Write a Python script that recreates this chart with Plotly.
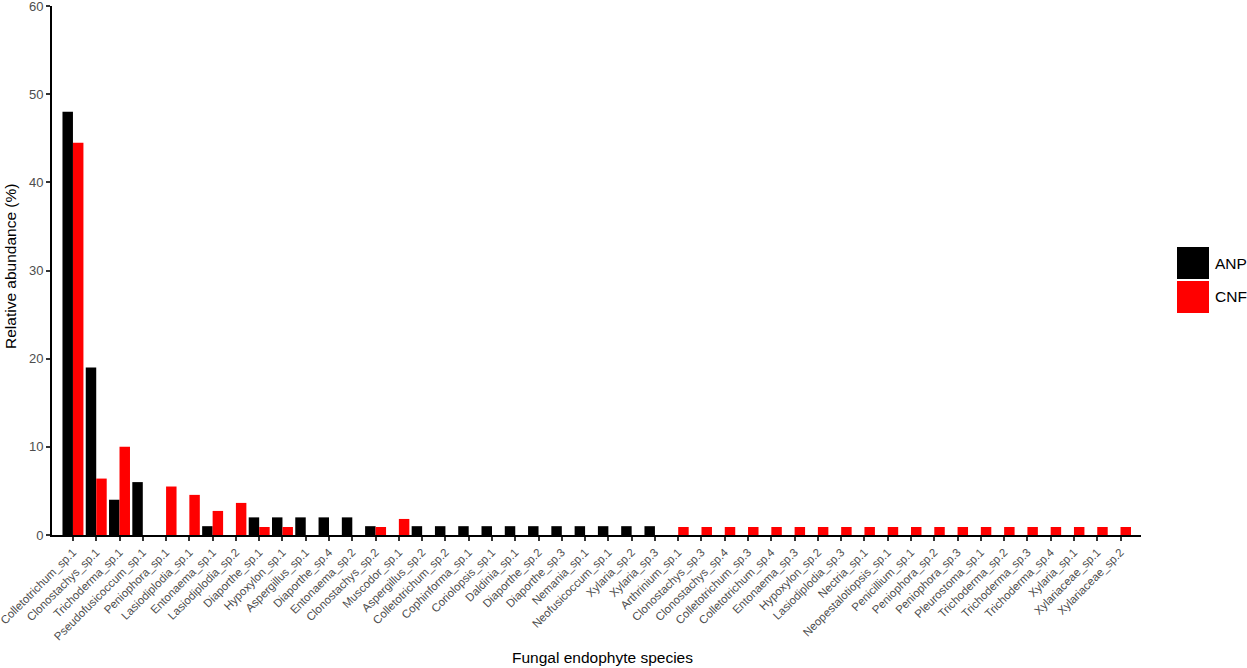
import plotly.graph_objects as go

species = [
    "Colletotrichum_sp.1", "Clonostachys_sp.1", "Trichoderma_sp.1", "Pseudofusicoccum_sp.1",
    "Peniophora_sp.1", "Lasiodiplodia_sp.1", "Entonaema_sp.1", "Lasiodiplodia_sp.2",
    "Diaporthe_sp.1", "Hypoxylon_sp.1", "Aspergillus_sp.1", "Diaporthe_sp.4",
    "Entonaema_sp.2", "Clonostachys_sp.2", "Muscodor_sp.1", "Aspergillus_sp.2",
    "Colletotrichum_sp.2", "Cophinforma_sp.1", "Coriolopsis_sp.1", "Daldinia_sp.1",
    "Diaporthe_sp.2", "Diaporthe_sp.3", "Nemania_sp.1", "Neofusicoccum_sp.1",
    "Xylaria_sp.2", "Xylaria_sp.3", "Arthrinium_sp.1", "Clonostachys_sp.3",
    "Clonostachys_sp.4", "Colletotrichum_sp.3", "Colletotrichum_sp.4", "Entonaema_sp.3",
    "Hypoxylon_sp.2", "Lasiodiplodia_sp.3", "Nectria_sp.1", "Neopestalotiopsis_sp.1",
    "Penicillium_sp.1", "Peniophora_sp.2", "Peniophora_sp.3", "Pleurostoma_sp.1",
    "Trichoderma_sp.2", "Trichoderma_sp.3", "Trichoderma_sp.4", "Xylaria_sp.1",
    "Xylariaceae_sp.1", "Xylariaceae_sp.2",
]

anp = [48, 19, 4, 6, 0, 0, 1, 0, 2, 2, 2, 2, 2, 1, 0, 1,
       1, 1, 1, 1, 1, 1, 1, 1, 1, 1,
       0, 0, 0, 0, 0, 0, 0, 0, 0, 0, 0, 0, 0, 0, 0, 0, 0, 0, 0, 0]

cnf = [44.5, 6.4, 10, 0, 5.5, 4.55, 2.73, 3.64, 0.91, 0.91, 0, 0, 0, 0.91, 1.82, 0,
       0, 0, 0, 0, 0, 0, 0, 0, 0, 0,
       0.91, 0.91, 0.91, 0.91, 0.91, 0.91, 0.91, 0.91, 0.91, 0.91,
       0.91, 0.91, 0.91, 0.91, 0.91, 0.91, 0.91, 0.91, 0.91, 0.91]

groups = ["ANP", "CNF"]
colors = {"ANP": "#000000", "CNF": "#FF0000"}
y_ticks = [0, 10, 20, 30, 40, 50, 60]

FONT = "Liberation Sans, Arial, sans-serif"

W, H = 1247, 668
L, R, T, B = 52, 1141, 6, 535  # plot-area edges in pixels
PW, PH = R - L, B - T

fig = go.Figure()
for g, vals in zip(groups, [anp, cnf]):
    fig.add_trace(go.Bar(x=species, y=vals, name=g, marker_color=colors[g],
                         marker_line_width=0, showlegend=False))

# manual legend (large keys as in reference)
shapes = []
annotations = []
key_top = 247
for i, g in enumerate(groups):
    y0 = key_top + i * 34
    shapes.append(dict(type="rect", xref="paper", yref="paper",
                       x0=(1177 - L) / PW, x1=(1209 - L) / PW,
                       y0=(B - (y0 + 32)) / PH, y1=(B - y0) / PH,
                       fillcolor=colors[g], line=dict(width=0)))
    annotations.append(dict(xref="paper", yref="paper", x=(1213 - L) / PW,
                            y=(B - (y0 + 16)) / PH, text=g, showarrow=False,
                            xanchor="left", yanchor="middle",
                            font=dict(family=FONT, size=15.5, color="#000000")))

# axis titles
annotations.append(dict(xref="paper", yref="paper", x=(602 - L) / PW, y=(B - 657) / PH,
                        text="Fungal endophyte species", showarrow=False,
                        xanchor="center", yanchor="middle",
                        font=dict(family=FONT, size=15.5, color="black")))
annotations.append(dict(xref="paper", yref="paper", x=(10 - L) / PW, y=(B - 267) / PH,
                        text="Relative abundance (%)", showarrow=False, textangle=-90,
                        xanchor="center", yanchor="middle",
                        font=dict(family=FONT, size=15.5, color="black")))

fig.update_layout(
    width=W, height=H,
    margin=dict(l=L, r=W - R, t=T, b=H - B),
    paper_bgcolor="white", plot_bgcolor="white",
    barmode="group", bargap=0.1, bargroupgap=0,
    font=dict(family=FONT),
    shapes=shapes, annotations=annotations,
    xaxis=dict(
        range=[-0.9, 45.88],
        tickangle=-45,
        tickfont=dict(family=FONT, size=11.5, color="#4D4D4D"),
        ticks="outside", ticklen=4, tickcolor="#333333", tickwidth=1.5,
        showline=True, linecolor="black", linewidth=2,
        showgrid=False, zeroline=False,
        automargin=False, ticklabeloverflow="allow",
    ),
    yaxis=dict(
        range=[0, 60],
        tickvals=y_ticks,
        tickfont=dict(family=FONT, size=13, color="#4D4D4D"),
        ticks="outside", ticklen=4, tickcolor="#333333", tickwidth=1.5,
        showline=True, linecolor="black", linewidth=2,
        showgrid=False, zeroline=False,
        automargin=False, ticklabeloverflow="allow",
    ),
)

fig.write_html("out.html", config={"displayModeBar": False},
               post_script="document.body.style.margin='0';document.body.style.overflow='hidden';")
